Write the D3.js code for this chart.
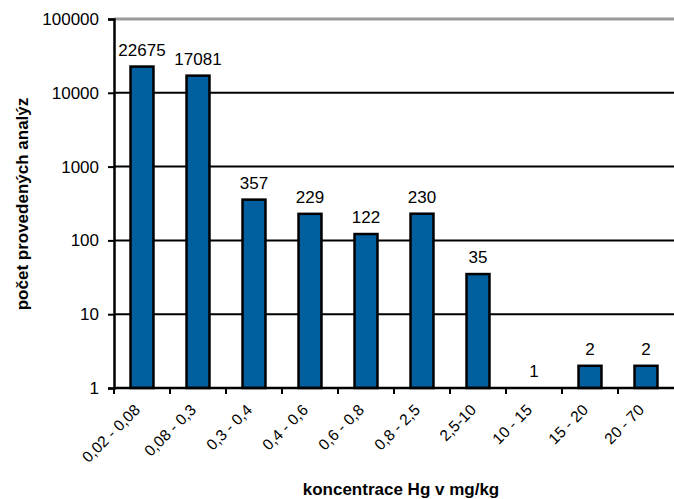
<!DOCTYPE html>
<html>
<head>
<meta charset="utf-8">
<script src="https://cdn.jsdelivr.net/npm/d3@7"></script>
<style>
  html, body { margin: 0; padding: 0; background: #fff; }
  svg { display: block; font-family: Arial, "Liberation Sans", sans-serif; }
</style>
</head>
<body>
<svg id="chart" width="674" height="499"></svg>
<script>
// Concentration classes and number of analyses
const categories = ["0,02 - 0,08", "0,08 - 0,3", "0,3 - 0,4", "0,4 - 0,6", "0,6 - 0,8",
                    "0,8 - 2,5", "2,5-10", "10 - 15", "15 - 20", "20 - 70"];
const counts = [22675, 17081, 357, 229, 122, 230, 35, 1, 2, 2];
const yTicks = [1, 10, 100, 1000, 10000, 100000];

const svg = d3.select("#chart");
const m = { left: 114, right: 674, top: 19, bottom: 388 };

const x = d3.scaleBand().domain(categories).range([m.left, m.right]).paddingInner(0.59).paddingOuter(0.295);
const xTickPos = d3.scaleBand().domain(categories).range([m.left, m.right]);
const y = d3.scaleLog().domain([1, 100000]).range([m.bottom, m.top]);

// horizontal gridlines
svg.append("g").selectAll("line")
  .data(yTicks.filter(t => t > 1 && t < 100000))
  .join("line")
  .attr("x1", m.left).attr("x2", m.right)
  .attr("y1", d => y(d)).attr("y2", d => y(d))
  .attr("stroke", "#000").attr("stroke-width", 2);

// top border of plot area
svg.append("line")
  .attr("x1", m.left).attr("x2", m.right)
  .attr("y1", y(100000)).attr("y2", y(100000))
  .attr("stroke", "#999").attr("stroke-width", 3);

// bars
svg.append("g").selectAll("rect")
  .data(categories.map((c, i) => ({ c, v: counts[i] })))
  .join("rect")
  .attr("x", d => x(d.c))
  .attr("width", x.bandwidth())
  .attr("y", d => y(d.v))
  .attr("height", d => y(1) - y(d.v))
  .attr("fill", "#00609f")
  .attr("stroke", "#000").attr("stroke-width", 2.5);

// value labels
svg.append("g").selectAll("text")
  .data(categories.map((c, i) => ({ c, v: counts[i] })))
  .join("text")
  .attr("x", d => x(d.c) + x.bandwidth() / 2)
  .attr("y", d => y(d.v) - 11)
  .attr("text-anchor", "middle")
  .attr("font-size", 17)
  .attr("fill", "#000")
  .text(d => d.v);

// y axis
const yAxis = svg.append("g")
  .attr("transform", `translate(${m.left},0)`)
  .call(d3.axisLeft(y).tickValues(yTicks).tickFormat(d3.format("d")).tickSize(6).tickPadding(9));
yAxis.select(".domain").attr("stroke", "#000").attr("stroke-width", 2.5);
yAxis.selectAll(".tick line").attr("stroke", "#000").attr("stroke-width", 2);
yAxis.selectAll(".tick text").attr("font-size", 17).attr("fill", "#000")
  .attr("font-family", "Arial, 'Liberation Sans', sans-serif");

// x axis baseline and ticks between categories
const xAxisG = svg.append("g");
xAxisG.append("line")
  .attr("x1", m.left).attr("x2", m.right)
  .attr("y1", m.bottom).attr("y2", m.bottom)
  .attr("stroke", "#000").attr("stroke-width", 2.5);
xAxisG.selectAll("line.tick")
  .data(categories.slice(1).map(c => xTickPos(c)).concat([m.left]))
  .join("line").attr("class", "tick")
  .attr("x1", d => d).attr("x2", d => d)
  .attr("y1", m.bottom).attr("y2", m.bottom + 6)
  .attr("stroke", "#000").attr("stroke-width", 2);

// rotated category labels
xAxisG.selectAll("text")
  .data(categories)
  .join("text")
  .attr("transform", d => `translate(${x(d) + x.bandwidth() / 2 - 1},${m.bottom + 23}) rotate(-45)`)
  .attr("text-anchor", "end")
  .attr("font-size", 15.5)
  .attr("fill", "#000")
  .text(d => d);

// axis titles
svg.append("text")
  .attr("x", 401).attr("y", 495)
  .attr("text-anchor", "middle")
  .attr("font-size", 17).attr("font-weight", "bold")
  .text("koncentrace Hg v mg/kg");

svg.append("text")
  .attr("transform", `translate(28,204) rotate(-90)`)
  .attr("text-anchor", "middle")
  .attr("font-size", 17).attr("font-weight", "bold")
  .text("počet provedených analýz");
</script>
</body>
</html>
